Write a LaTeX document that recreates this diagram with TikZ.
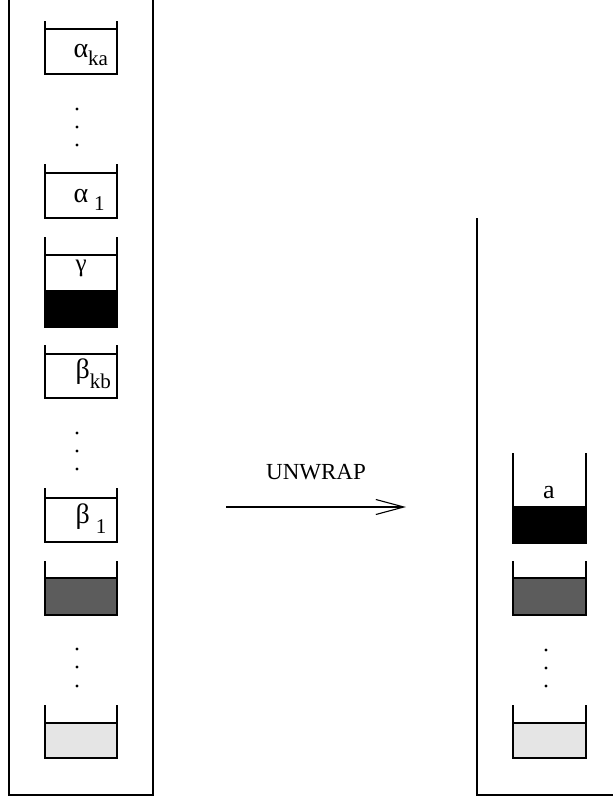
\documentclass[tikz,border=0pt]{standalone}
\usepackage{fontspec}
\setmainfont{Liberation Serif}
\usetikzlibrary{arrows.meta}

\newcommand{\low}[2]{\raisebox{-#1}{\fontsize{21}{21}\selectfont #2}}

\begin{document}
\begin{tikzpicture}[x=1pt,y=-1pt,line width=1.1pt]

    \tikzstyle{lbl} = [inner sep=0pt, anchor=base west, font=\fontsize{28}{28}\selectfont];
    \tikzstyle{word} = [inner sep=0pt, font=\fontsize{23}{23}\selectfont];
    \tikzstyle{dot} = [fill, circle, inner sep=0pt, minimum size=3.2pt];
    \tikzstyle{flow} = [-{Straight Barb[length=28pt,width=15pt]}, line width=1.1pt];

    \useasboundingbox (0,0) rectangle (613,798);

    % stacks
    \draw (9,0) -- (9,795) -- (153,795) -- (153,0);
    \draw (477,218) -- (477,795) -- (613,795);

    % fillings
    \fill[black] (45,290) rectangle (117,327);
    \fill[black] (513,506) rectangle (586,543);
    \foreach \xa/\xb in {45/117, 513/586} {
        \fill[black!64] (\xa,578) rectangle (\xb,615);
        \fill[black!10] (\xa,723) rectangle (\xb,758);
        \draw (\xa,578) -- (\xb,578);
        \draw (\xa,723) -- (\xb,723);
    }

    % cups: left x, right x, top of walls, bottom
    \foreach \xa/\xb/\t/\b in {45/117/21/74, 45/117/164/218, 45/117/237/327,
            45/117/345/398, 45/117/488/542, 45/117/561/615, 45/117/705/758,
            513/586/453/543, 513/586/561/615, 513/586/705/758}
        \draw (\xa,\t) -- (\xa,\b) -- (\xb,\b) -- (\xb,\t);

    % lids
    \foreach \xa/\xb/\l in {45/117/29, 45/117/173, 45/117/255, 45/117/354, 45/117/498}
        \draw (\xa,\l) -- (\xb,\l);

    % dots
    \foreach \x/\y in {77/109, 77/127, 77/145, 77/433, 77/451, 77/469,
            77/649, 77/667, 77/686, 546/650, 546/668, 546/686}
        \node[dot] at (\x,\y) {};

    % labels
    \node[lbl] (aka) at (73,57) {α\low{8pt}{ka}};
    \node[lbl] (a1) at (73,202) {α\hspace{6pt}\low{8pt}{1}};
    \node[lbl, font=\fontsize{25}{25}\selectfont] (gam) at (75,271) {γ};
    \node[lbl] (bkb) at (75,378) {β\low{10pt}{kb}};
    \node[lbl] (b1) at (75,523) {β\hspace{6pt}\low{10pt}{1}};
    \node[word, anchor=base, font=\fontsize{26}{26}\selectfont] (lta) at (549,498) {a};

    % unwrap
    \coordinate (src) at (226,507);
    \coordinate (dst) at (406,507);
    \draw[flow] (src) -- node[word, above=27pt] {UNWRAP} (dst);

\end{tikzpicture}
\end{document}
